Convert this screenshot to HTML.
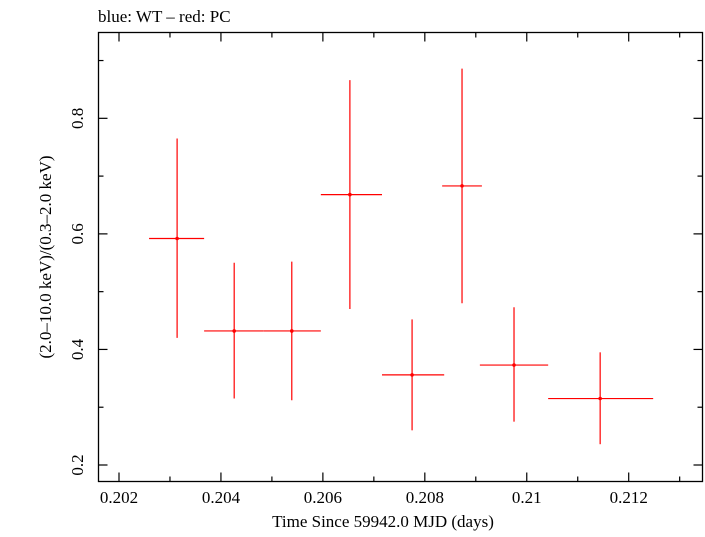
<!DOCTYPE html>
<html><head><meta charset="utf-8"><style>
html,body{margin:0;padding:0;background:#fff;}
svg text{font-family:"Liberation Serif","DejaVu Serif",serif;fill:#000;}
</style></head><body>
<svg id="chart" width="705" height="532" viewBox="0 0 705 532" xmlns="http://www.w3.org/2000/svg">
<text x="98" y="22" font-size="17">blue: WT – red: PC</text>
<g id="axes"></g>
<g id="marks"></g>
<text x="383" y="527" font-size="17" text-anchor="middle">Time Since 59942.0 MJD (days)</text>
<text transform="translate(51,257) rotate(-90)" font-size="17" text-anchor="middle">(2.0–10.0 keV)/(0.3–2.0 keV)</text>
</svg>
<script>
const timeVals = [0.20314, 0.20426, 0.20539, 0.20653, 0.20775, 0.20873, 0.20975, 0.21144];
const timeLo   = [0.20259, 0.20367, 0.20484, 0.20596, 0.20716, 0.20834, 0.20908, 0.21042];
const timeHi   = [0.20367, 0.20484, 0.20596, 0.20716, 0.20838, 0.20912, 0.21042, 0.21248];
const ratioVals = [0.592, 0.432, 0.432, 0.668, 0.356, 0.683, 0.373, 0.315];
const ratioLo   = [0.420, 0.315, 0.312, 0.470, 0.260, 0.480, 0.275, 0.236];
const ratioHi   = [0.765, 0.550, 0.552, 0.866, 0.452, 0.886, 0.473, 0.395];
const xTickLabels = ["0.202","0.204","0.206","0.208","0.21","0.212"];
const yTickLabels = ["0.2","0.4","0.6","0.8"];

const L=98.5, R=702.5, T=32.5, B=481.5;
const xs = v => 119 + (v-0.202)*50970;
const ys = v => 465 - (v-0.2)*577.8;
const NS="http://www.w3.org/2000/svg";
function mk(tag, attrs, parent){const e=document.createElementNS(NS,tag);for(const k in attrs)e.setAttribute(k,attrs[k]);parent.appendChild(e);return e;}
const axes=document.getElementById('axes'), marks=document.getElementById('marks');

const frame=mk('rect',{x:L,y:T,width:R-L,height:B-T,fill:'none',stroke:'#000','stroke-width':1.3},axes);



// x ticks every 0.001
for(let i=0;i<=11;i++){
  const v=0.202+i*0.001, x=xs(v); if(x>R) break;
  const len = i%2===0?9:5;
  const t1=mk('line',{x1:x,x2:x,y1:B,y2:B-len,stroke:'#000','stroke-width':1.2},axes);
  
  
  const t2=mk('line',{x1:x,x2:x,y1:T,y2:T+len,stroke:'#000','stroke-width':1.2},axes);
  
  
}
xTickLabels.forEach((lab,i)=>{
  const t=mk('text',{x:xs(0.202+i*0.002),y:503,'font-size':17,'text-anchor':'middle'},axes);
  t.textContent=lab;
  
  
});
// y ticks every 0.1
for(let i=0;i<=7;i++){
  const v=0.2+i*0.1, y=ys(v); if(y<T) break;
  const len=i%2===0?9:5;
  const t1=mk('line',{x1:L,x2:L+len,y1:y,y2:y,stroke:'#000','stroke-width':1.2},axes);
  
  
  const t2=mk('line',{x1:R,x2:R-len,y1:y,y2:y,stroke:'#000','stroke-width':1.2},axes);
  
  
}
yTickLabels.forEach((lab,i)=>{
  const y=ys(0.2+i*0.2);
  const t=mk('text',{transform:`translate(83,${y}) rotate(-90)`,'font-size':17,'text-anchor':'middle'},axes);
  t.textContent=lab;
  
  
});
// data
timeVals.forEach((tv,i)=>{
  const g=mk('g',{},marks);
  
  
  mk('line',{x1:xs(timeLo[i]),x2:xs(timeHi[i]),y1:ys(ratioVals[i]),y2:ys(ratioVals[i]),stroke:'#f00','stroke-width':1.2},g);
  mk('line',{x1:xs(tv),x2:xs(tv),y1:ys(ratioLo[i]),y2:ys(ratioHi[i]),stroke:'#f00','stroke-width':1.2},g);
  mk('circle',{cx:xs(tv),cy:ys(ratioVals[i]),r:1.8,fill:'#f00'},g);
});
</script>
</body></html>
